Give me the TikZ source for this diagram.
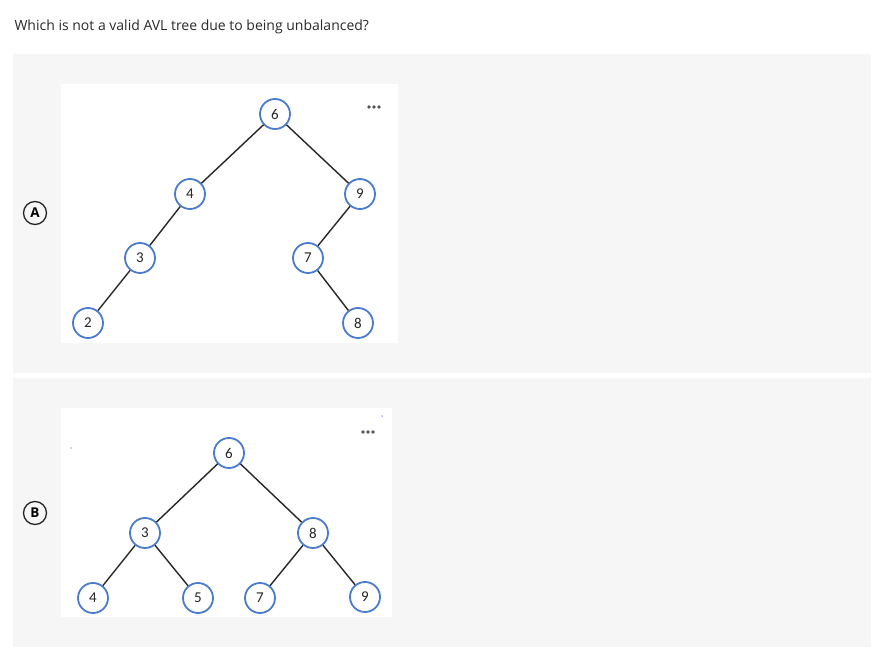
\documentclass[tikz,border=0pt]{standalone}
\usepackage{fontspec}
\setmainfont{Open Sans}
\newfontfamily\digitfont{Carlito}
\definecolor{panel}{HTML}{F6F6F6}
\definecolor{nodeblue}{HTML}{4A7BCF}
\definecolor{txt}{HTML}{2A2A2A}
\definecolor{dotgrey}{HTML}{555555}
\begin{document}
\begin{tikzpicture}[x=1pt,y=-1pt,
  tn/.style={circle,draw=nodeblue,line width=1.8pt,fill=white,minimum size=30pt,inner sep=0pt,text=black!85,font=\digitfont\fontsize{15}{15}\selectfont},
  edge/.style={line width=1.4pt,black!85},
  opt/.style={circle,draw=black!85,line width=1.3pt,minimum size=23pt,inner sep=0pt,font=\bfseries\fontsize{13.5}{13.5}\selectfont},
  dot/.style={circle,fill=dotgrey,inner sep=0pt,minimum size=3.6pt}]
\useasboundingbox (0,0) rectangle (892,652);
\fill[white] (0,0) rectangle (892,652);
\node[anchor=west,text=txt,font=\fontsize{14}{14}\selectfont] (q) at (11,27) {Which is not a valid AVL tree due to being unbalanced?};
% panels
\fill[panel] (13,54) rectangle (871,373);
\fill[panel] (13,378) rectangle (871,647);
\fill[white] (61,84) rectangle (398,343);
\fill[white] (61,408) rectangle (392,617);
\node[opt] (oa) at (35,213) {A};
\node[opt] (ob) at (35,513) {B};
% tree A
\node[tn] (a6) at (275,114) {6};
\node[tn] (a4) at (190,194) {4};
\node[tn] (a9) at (360,194) {9};
\node[tn] (a3) at (140,258) {3};
\node[tn] (a7) at (308,258) {7};
\node[tn] (a2) at (88,323) {2};
\node[tn] (a8) at (358,323) {8};
\draw[edge] (a6) -- (a4);
\draw[edge] (a6) -- (a9);
\draw[edge] (a4) -- (a3);
\draw[edge] (a3) -- (a2);
\draw[edge] (a9) -- (a7);
\draw[edge] (a7) -- (a8);
\node[dot] (ea1) at (369,107) {};
\node[dot] (ea2) at (374,107) {};
\node[dot] (ea3) at (379,107) {};
% tree B
\node[tn] (b6) at (229,453) {6};
\node[tn] (b3) at (145,533) {3};
\node[tn] (b8) at (313,533) {8};
\node[tn] (b4) at (93,598) {4};
\node[tn] (b5) at (198,598) {5};
\node[tn] (b7) at (260,598) {7};
\node[tn] (b9) at (365,597) {9};
\draw[edge] (b6) -- (b3);
\draw[edge] (b6) -- (b8);
\draw[edge] (b3) -- (b4);
\draw[edge] (b3) -- (b5);
\draw[edge] (b8) -- (b7);
\draw[edge] (b8) -- (b9);
\node[dot] (eb1) at (363,432) {};
\node[dot] (eb2) at (368,432) {};
\node[dot] (eb3) at (373,432) {};
\node[circle,fill=black!70,inner sep=0pt,minimum size=1.2pt] (sp1) at (71,448) {};
\node[circle,fill=nodeblue,inner sep=0pt,minimum size=1.5pt] (sp2) at (382,416) {};
\end{tikzpicture}
\end{document}
